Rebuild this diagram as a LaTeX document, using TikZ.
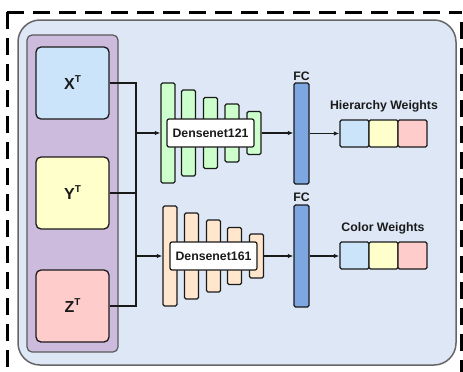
\documentclass[tikz,border=0pt]{standalone}
\usepackage{fontspec}
\setmainfont{Liberation Sans}
\usetikzlibrary{arrows.meta}
\definecolor{bgblue}{HTML}{DDE7F6}
\definecolor{grpurple}{HTML}{CDBBDE}
\definecolor{cblue}{HTML}{CCE4FA}
\definecolor{cyellow}{HTML}{FFFFCC}
\definecolor{cred}{HTML}{FFCCCC}
\definecolor{cgreen}{HTML}{CCFFCC}
\definecolor{cpeach}{HTML}{FFE6CC}
\definecolor{cfc}{HTML}{7EA6E0}
\definecolor{txt}{HTML}{1A1A1A}
\tikzset{
  inbox/.style={draw=txt, line width=1.3pt, rounded corners=5pt, minimum width=73pt, minimum height=72pt, inner sep=0pt, font=\fontsize{16}{16}\selectfont\bfseries, text=txt},
  barbox/.style={draw=txt, line width=1.2pt, rounded corners=1.5pt, minimum width=14pt, inner sep=0pt},
  netlabel/.style={draw=txt, fill=white, line width=1.2pt, rounded corners=2pt, minimum width=87pt, minimum height=28pt, inner sep=0pt, font=\fontsize{12.3}{12.3}\selectfont\bfseries, text=txt},
  fcbox/.style={draw=txt, fill=cfc, line width=1.2pt, rounded corners=1.5pt, minimum width=15pt, inner sep=0pt},
  cell/.style={draw=txt, line width=1.4pt, rounded corners=1.5pt, minimum width=29pt, minimum height=27pt, inner sep=0pt},
  lbl/.style={font=\fontsize{12.3}{12.3}\selectfont\bfseries, text=txt, inner sep=0pt},
  conn/.style={line width=1.3pt, draw=txt},
  arr/.style={conn, -{Latex[length=5.5pt,width=4.5pt]}},
  frame/.style={line width=3pt, dash pattern=on 17pt off 9pt}
}
\newcommand{\supT}{\raisebox{7pt}{\fontsize{10}{10}\selectfont T}}
\begin{document}
\begin{tikzpicture}[x=1pt,y=-1pt]
\useasboundingbox (0,0) rectangle (463,372);
% outer dashed frame
\draw[frame] (7,12) -- (461.5,12);
\draw[frame] (7,12) -- (7,390);
\draw[frame] (461.5,22) -- (461.5,390);
% background panel
\draw[fill=bgblue, draw=black!60, line width=1.5pt, rounded corners=22pt] (18,20) rectangle (456,365);
% input group
\draw[fill=grpurple, draw=black!65, line width=1.2pt, rounded corners=5pt] (27,35) rectangle (118,352);
\node[inbox, fill=cblue] (X) at (72.5,83) {X\supT};
\node[inbox, fill=cyellow] (Y) at (72.5,193) {Y\supT};
\node[inbox, fill=cred] (Z) at (72.5,306) {Z\supT};
% junction coordinates
\coordinate (jt) at (136,83);
\coordinate (jb) at (136,306);
\coordinate (ja) at (136,133);
\coordinate (jc) at (136,256);
% Densenet121
\node[barbox, fill=cgreen, minimum height=100pt] (a1) at (168,133) {};
\node[barbox, fill=cgreen, minimum height=86pt] (a2) at (188.5,133) {};
\node[barbox, fill=cgreen, minimum height=71pt] (a3) at (210.5,133) {};
\node[barbox, fill=cgreen, minimum height=58pt] (a4) at (232,133) {};
\node[barbox, fill=cgreen, minimum height=43pt] (a5) at (254,133) {};
\node[netlabel] (d121) at (210.5,133) {Densenet121};
% Densenet161
\node[barbox, fill=cpeach, minimum height=100pt] (b1) at (170,256) {};
\node[barbox, fill=cpeach, minimum height=86pt] (b2) at (191.5,256) {};
\node[barbox, fill=cpeach, minimum height=72pt] (b3) at (213.5,256) {};
\node[barbox, fill=cpeach, minimum height=57pt] (b4) at (234.5,256) {};
\node[barbox, fill=cpeach, minimum height=44pt] (b5) at (256.5,256) {};
\node[netlabel] (d161) at (213.5,256) {Densenet161};
% FC layers
\node[fcbox, minimum height=101pt] (fc1) at (301.5,133.5) {};
\node[fcbox, minimum height=102pt] (fc2) at (301.5,256) {};
\node[lbl, anchor=south] (fc1l) at (301.5,80.5) {FC};
\node[lbl, anchor=south] (fc2l) at (301.5,201.5) {FC};
% weights
\node[cell, fill=cblue] (h1) at (354.5,133.5) {};
\node[cell, fill=cyellow] (h2) at (383.5,133.5) {};
\node[cell, fill=cred] (h3) at (412.5,133.5) {};
\node[cell, fill=cblue] (c1) at (354.5,255.5) {};
\node[cell, fill=cyellow] (c2) at (383.5,255.5) {};
\node[cell, fill=cred] (c3) at (412.5,255.5) {};
\node[lbl, anchor=south] (hl) at (384,112) {Hierarchy Weights};
\node[lbl, anchor=south] (cl) at (383,234) {Color Weights};
% connectors
\draw[conn] (X.east) -- (jt) -- (jb) -- (Z.east);
\draw[conn] (Y.east) -- (Y.east -| jt);
\draw[arr] (ja) -- (a1.west);
\draw[arr] (jc) -- (b1.west);
\draw[arr] (a5.east) -- (a5.east -| fc1.west);
\draw[arr] (b5.east) -- (b5.east -| fc2.west);
\draw[arr] (fc1.east) -- (fc1.east -| h1.west);
\draw[arr] (fc2.east) -- (fc2.east -| c1.west);
\end{tikzpicture}
\end{document}
